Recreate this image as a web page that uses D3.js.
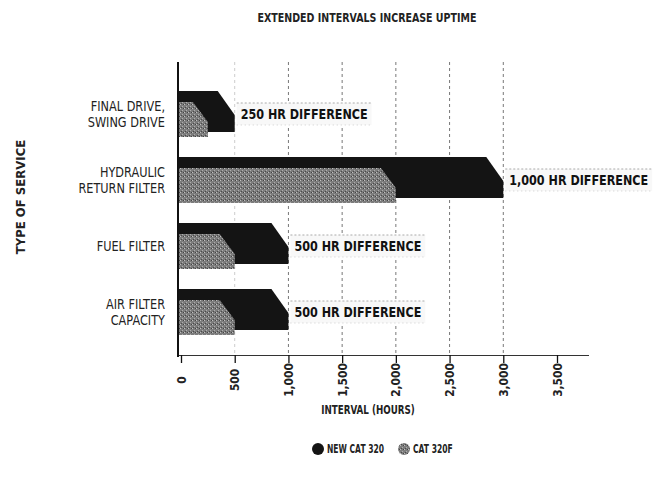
<!DOCTYPE html>
<html>
<head>
<meta charset="utf-8">
<script src="https://cdn.jsdelivr.net/npm/d3@7"></script>
<style>
  html, body { margin: 0; padding: 0; background: #fff; }
  svg { display: block; }
  text { font-family: "DejaVu Sans", "Liberation Sans", sans-serif; }
</style>
</head>
<body>
<script>
const categories = [["FINAL DRIVE,", "SWING DRIVE"], ["HYDRAULIC", "RETURN FILTER"], ["FUEL FILTER"], ["AIR FILTER", "CAPACITY"]];
const newCat320 = [500, 3000, 1000, 1000];
const cat320F = [250, 2000, 500, 500];
const diffLabels = ["250 HR DIFFERENCE", "1,000 HR DIFFERENCE", "500 HR DIFFERENCE", "500 HR DIFFERENCE"];
const tickValues = [0, 500, 1000, 1500, 2000, 2500, 3000, 3500];
const tickLabels = ["0", "500", "1,000", "1,500", "2,000", "2,500", "3,000", "3,500"];
const gridValues = [500, 1000, 1500, 2000, 2500, 3000];
const seriesNames = ["NEW CAT 320", "CAT 320F"];

const W = 656, H = 484;
const svg = d3.select("body").append("svg").attr("width", W).attr("height", H);

// condensed text helper: draws text in a group scaled horizontally along the text direction
function ctext(parent, px, py, str, o) {
  const g = parent.append("g")
    .attr("transform", `translate(${px},${py}) rotate(${o.rot || 0}) scale(${o.sx},1)`);
  const t = g.append("text").attr("x", 0).attr("y", 0).attr("dy", "0.35em")
    .attr("text-anchor", o.anchor || "start")
    .attr("font-size", o.size).attr("font-weight", o.weight || "normal")
    .attr("fill", o.fill || "#222").text(str);
  return { g, t };
}

const defs = svg.append("defs");
const pat = defs.append("pattern").attr("id", "grain").attr("width", 4).attr("height", 4).attr("patternUnits", "userSpaceOnUse");
pat.append("rect").attr("width", 4).attr("height", 4).attr("fill", "#7c7c7c");
pat.append("rect").attr("x", 0).attr("y", 0).attr("width", 1).attr("height", 1).attr("fill", "#c0c0c0");
pat.append("rect").attr("x", 2).attr("y", 2).attr("width", 1).attr("height", 1).attr("fill", "#adadad");
pat.append("rect").attr("x", 3).attr("y", 0).attr("width", 1).attr("height", 1).attr("fill", "#444");
pat.append("rect").attr("x", 1).attr("y", 3).attr("width", 1).attr("height", 1).attr("fill", "#4a4a4a");

const x = d3.scaleLinear().domain([0, 3500]).range([181, 557]);
const y = d3.scaleBand().domain(d3.range(categories.length)).range([79, 343]);
const plotTop = 62, baseY = 355;

// grid lines
svg.append("g").selectAll("line").data(gridValues).join("line")
  .attr("x1", d => x(d)).attr("x2", d => x(d))
  .attr("y1", plotTop).attr("y2", baseY)
  .attr("stroke", d => d === 500 ? "#ccc" : "#777").attr("stroke-width", 1)
  .attr("stroke-dasharray", "3,3");

// x axis (ticks via d3 axis, labels drawn condensed)
const xAxis = d3.axisBottom(x).tickValues(tickValues).tickSize(8).tickFormat("");
const gx = svg.append("g").attr("transform", `translate(0,${baseY})`).call(xAxis);
gx.select(".domain").attr("stroke", "#333").attr("stroke-width", 1.2).attr("d", `M${x(0) - 3},0.5H${x(3500) + 32}`);
gx.selectAll(".tick line").attr("stroke", "#111").attr("stroke-width", 1.3);
tickValues.forEach((v, i) => {
  ctext(svg, x(v), baseY + 25, tickLabels[i], { rot: -90, sx: 0.82, size: 13, weight: "bold", anchor: "middle" });
});

// y axis line
svg.append("line").attr("x1", 178).attr("x2", 178).attr("y1", plotTop).attr("y2", baseY + 2)
  .attr("stroke", "#111").attr("stroke-width", 2);

function barPath(v, top, bottom, c, d) {
  const x0 = x(0) - 2, x1 = x(v);
  return `M${x0},${top}H${x1 - c}L${x1},${top + d}V${bottom}H${x0}Z`;
}

const rows = svg.append("g").selectAll("g").data(categories).join("g");
rows.each(function (cat, i) {
  const g = d3.select(this);
  const cy = y(i) + y.bandwidth() / 2;
  g.append("path").attr("d", barPath(newCat320[i], cy - 21, cy + 20, 17, 24)).attr("fill", "#141414");
  g.append("path").attr("d", barPath(cat320F[i], cy - 10, cy + 25, 15, 20)).attr("fill", "url(#grain)");
  // difference label
  const sx = 0.8;
  const lx = x(newCat320[i]) + 6;
  const lab = g.append("g");
  const bgRect = lab.append("rect");
  const l1 = lab.append("line"), l2 = lab.append("line");
  const { t } = ctext(lab, lx, cy + 2, diffLabels[i], { sx: sx, size: 14, weight: "bold", fill: "#111" });
  const bb = t.node().getBBox();
  const w = bb.width * sx;
  bgRect.attr("x", lx - 4).attr("y", cy - 9).attr("width", w + 8).attr("height", 22).attr("fill", "#f8f8f8");
  l1.attr("x1", lx - 4).attr("x2", lx + w + 4).attr("y1", cy - 9).attr("y2", cy - 9)
    .attr("stroke", "#aaa").attr("stroke-dasharray", "2,2");
  l2.attr("x1", lx - 4).attr("x2", lx + w + 4).attr("y1", cy + 13).attr("y2", cy + 13)
    .attr("stroke", "#ccc").attr("stroke-dasharray", "1,3");
  // category label
  const n = cat.length;
  cat.forEach((line, k) => {
    ctext(g, 165, cy + 2 + (k - (n - 1) / 2) * 16, line, { sx: 0.78, size: 14.5, anchor: "end" });
  });
});

// title
ctext(svg, 367, 17, "EXTENDED INTERVALS INCREASE UPTIME", { sx: 0.73, size: 13, weight: "bold", anchor: "middle" });

// y title
ctext(svg, 20, 197, "TYPE OF SERVICE", { rot: -90, sx: 0.9, size: 13, weight: "bold", anchor: "middle" });

// x title
ctext(svg, 368, 410, "INTERVAL (HOURS)", { sx: 0.7, size: 12.5, weight: "bold", anchor: "middle" });

// legend
const legend = svg.append("g").attr("transform", "translate(0,449)");
const legItems = [{ cx: 318, fill: "#141414" }, { cx: 404, fill: "url(#grain)" }];
legItems.forEach((it, i) => {
  legend.append("circle").attr("cx", it.cx).attr("cy", 0).attr("r", 6).attr("fill", it.fill);
  ctext(legend, it.cx + 9, 0, seriesNames[i], { sx: 0.66, size: 11.5, weight: "bold" });
});
</script>
</body>
</html>
